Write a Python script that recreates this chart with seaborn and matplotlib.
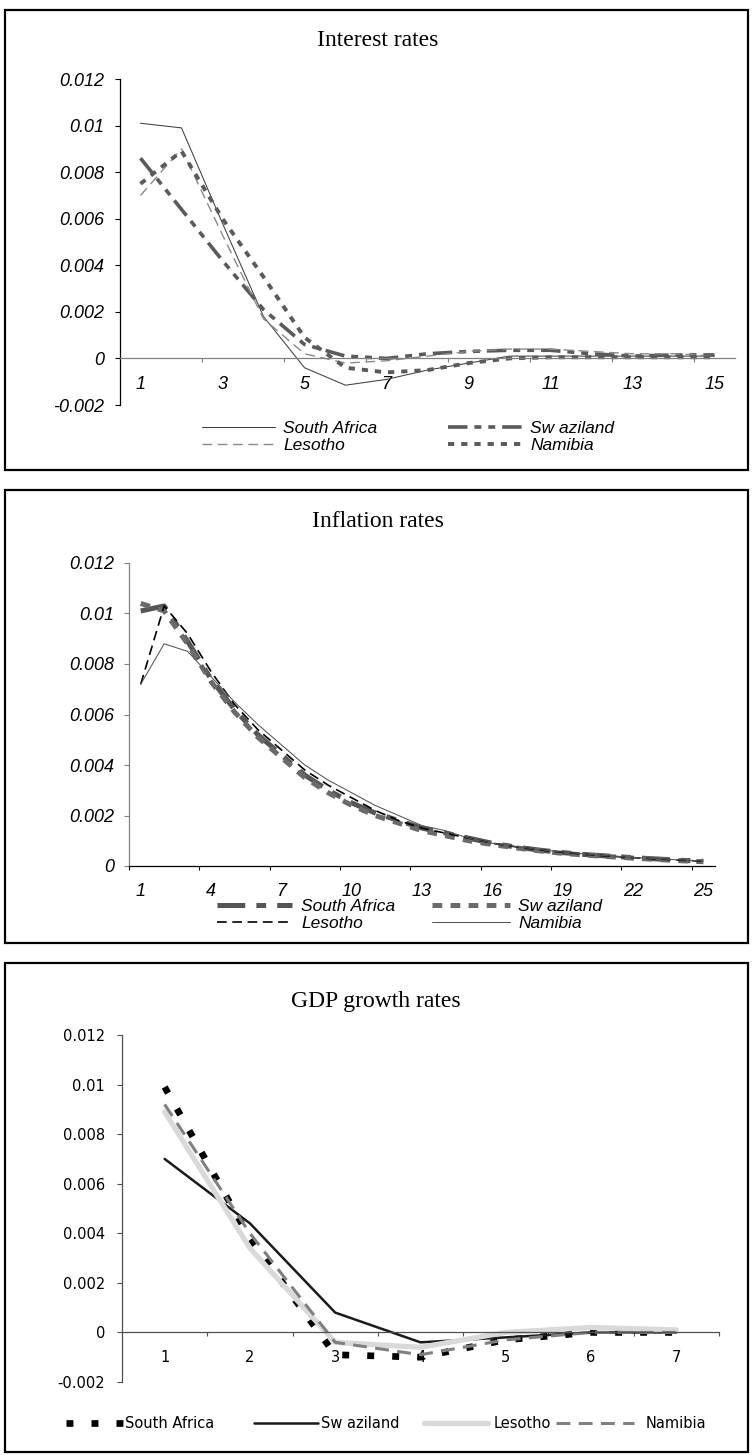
import matplotlib
matplotlib.use("Agg")
import matplotlib.pyplot as plt
import seaborn as sns
from matplotlib.lines import Line2D
from matplotlib.patches import Rectangle
from matplotlib.font_manager import FontProperties

sns.set_theme(style="white")
plt.rcParams["font.family"] = ["Liberation Sans", "DejaVu Sans"]
plt.rcParams["lines.scale_dashes"] = False
plt.rcParams["axes.unicode_minus"] = False
plt.rcParams["text.color"] = "black"

W, H, DPI = 753, 1455, 100

# ---------------- data ----------------
countries = ["South Africa", "Sw aziland", "Lesotho", "Namibia"]

interest_periods = list(range(1, 16))
interest_sa = [0.0101, 0.0099, 0.0058, 0.0018, -0.0004, -0.00115, -0.0009, -0.0005,
               -0.0002, 0.0001, 0.0001, 0.0001, 0.0001, 0.0001, 0.0001]
interest_sw = [0.0086, 0.0064, 0.0042, 0.0021, 0.0006, 0.0001, 0.0000, 0.0002,
               0.0003, 0.00035, 0.00035, 0.0002, 0.0001, 0.00015, 0.00015]
interest_le = [0.0070, 0.0090, 0.0053, 0.0017, 0.0002, -0.0002, -0.0001, 0.0001,
               0.0003, 0.0004, 0.0004, 0.0003, 0.0002, 0.0002, 0.0001]
interest_na = [0.0075, 0.0089, 0.0060, 0.0035, 0.0009, -0.0004, -0.0006, -0.0005,
               -0.0002, 0.0000, 0.00005, 0.00005, 0.00005, 0.00005, 0.00005]
interest_yticks = [0.012, 0.01, 0.008, 0.006, 0.004, 0.002, 0.0, -0.002]
interest_ylabels = ["0.012", "0.01", "0.008", "0.006", "0.004", "0.002", "0", "-0.002"]
interest_xlabels = [1, 3, 5, 7, 9, 11, 13, 15]

inflation_periods = list(range(1, 26))
inflation_sa = [0.0101, 0.0103, 0.0089, 0.0074, 0.0062, 0.0052, 0.0044, 0.0036, 0.0030,
                0.0025, 0.0021, 0.0018, 0.0015, 0.0013, 0.0011, 0.0009, 0.00075, 0.00063,
                0.00053, 0.00045, 0.00039, 0.00033, 0.00028, 0.00023, 0.00019]
inflation_sw = [0.0104, 0.0101, 0.0088, 0.0073, 0.0061, 0.0051, 0.0043, 0.0035, 0.0029,
                0.0024, 0.0020, 0.0017, 0.0014, 0.0012, 0.0010, 0.00085, 0.00072, 0.0006,
                0.0005, 0.00043, 0.00037, 0.00031, 0.00026, 0.00021, 0.00017]
inflation_le = [0.0072, 0.0103, 0.0092, 0.0077, 0.0064, 0.0054, 0.0046, 0.0038, 0.0032,
                0.0027, 0.0022, 0.0018, 0.0015, 0.0013, 0.0011, 0.0009, 0.00076, 0.00064,
                0.00054, 0.00046, 0.00039, 0.00033, 0.00028, 0.00023, 0.00019]
inflation_na = [0.0072, 0.0088, 0.0085, 0.0075, 0.0065, 0.0056, 0.0048, 0.0040, 0.0034,
                0.0029, 0.0024, 0.0020, 0.0016, 0.0014, 0.0011, 0.0009, 0.00077, 0.00065,
                0.00055, 0.00047, 0.0004, 0.00034, 0.00029, 0.00024, 0.0002]
inflation_yticks = [0.012, 0.01, 0.008, 0.006, 0.004, 0.002, 0.0]
inflation_ylabels = ["0.012", "0.01", "0.008", "0.006", "0.004", "0.002", "0"]
inflation_xlabels = [1, 4, 7, 10, 13, 16, 19, 22, 25]

gdp_periods = list(range(1, 8))
gdp_sa = [0.0099, 0.0038, -0.0009, -0.0010, -0.0003, 0.0000, 0.0000]
gdp_sw = [0.0070, 0.0044, 0.0008, -0.0004, -0.0002, 0.0000, 0.0000]
gdp_le = [0.0089, 0.0034, -0.0004, -0.0006, 0.0000, 0.0002, 0.0001]
gdp_na = [0.0092, 0.0040, -0.0004, -0.0009, -0.0003, 0.0000, 0.0000]
gdp_yticks = [0.012, 0.01, 0.008, 0.006, 0.004, 0.002, 0.0, -0.002]
gdp_ylabels = ["0.012", "0.01", "0.008", "0.006", "0.004", "0.002", "0", "-0.002"]
gdp_xlabels = [1, 2, 3, 4, 5, 6, 7]

# ---------------- helpers ----------------
fig = plt.figure(figsize=(W / DPI, H / DPI), dpi=DPI)
fig.patch.set_facecolor("white")


def axes_rect(left, top, right, bottom):
    return [left / W, 1 - bottom / H, (right - left) / W, (bottom - top) / H]


def frame(top, bottom):
    fig.patches.append(Rectangle((5 / W, 1 - bottom / H), 743 / W, (bottom - top) / H,
                                 transform=fig.transFigure, fill=False,
                                 edgecolor="black", linewidth=1.6, zorder=0))


def draw_series(ax, xs, ys, style):
    sns.lineplot(x=xs, y=ys, ax=ax, legend=False, sort=False, errorbar=None, **style)


def style_axes(ax, n_cat, yticks, ylabels, xlabels, minor_x, font, ycolor, xcolor,
               ypad, xpad):
    ax.set_xlim(0.5, n_cat + 0.5)
    ax.set_ylim(yticks[-1], yticks[0])
    for s in ("top", "right"):
        ax.spines[s].set_visible(False)
    ax.spines["bottom"].set_position(("data", 0))
    ax.spines["left"].set_color(ycolor)
    ax.spines["left"].set_linewidth(0.9)
    ax.spines["bottom"].set_color(xcolor)
    ax.spines["bottom"].set_linewidth(0.9)
    ax.set_yticks(yticks)
    ax.set_yticklabels(ylabels, fontproperties=font)
    ax.set_xticks(xlabels)
    ax.set_xticklabels([str(v) for v in xlabels], fontproperties=font)
    ax.set_xticks(minor_x, minor=True)
    ax.tick_params(axis="y", direction="out", length=3.6, width=0.8, color=ycolor,
                   pad=ypad, left=True, labelcolor="black")
    ax.tick_params(axis="x", which="major", length=0, pad=xpad, bottom=True,
                   labelcolor="black")
    ax.tick_params(axis="x", which="minor", direction="out", length=3, width=0.8,
                   color=xcolor, bottom=True)
    ax.set_xlabel("")
    ax.set_ylabel("")
    ax.patch.set_alpha(0)
    ax.grid(False)


def legend_entry(style, label, x_px, y_px, hl_px, gap_px, prop):
    h = Line2D([], [], color=style.get("color"), linewidth=style.get("linewidth"),
               linestyle=style.get("linestyle", "-"))
    fs_px = prop.get_size_in_points() * DPI / 72
    fig.legend([h], [label], loc="center left",
               bbox_to_anchor=(x_px / W, 1 - y_px / H),
               frameon=False, borderpad=0, borderaxespad=0,
               handlelength=hl_px / fs_px, handletextpad=gap_px / fs_px, prop=prop)


title_font = dict(family=["Liberation Serif", "DejaVu Serif"], size=17)
it_tick = FontProperties(family=["Liberation Sans", "DejaVu Sans"], style="italic", size=13)
it_leg = FontProperties(family=["Liberation Sans", "DejaVu Sans"], style="italic", size=12.5)
plain_tick = FontProperties(family=["DejaVu Sans"], size=10.5)
plain_leg = FontProperties(family=["DejaVu Sans"], size=10.5)

# ---------------- panel 1: interest rates ----------------
frame(10, 470)
ax1 = fig.add_axes(axes_rect(120, 79, 735, 405))
st1 = [
    dict(color="#404040", linewidth=0.75, linestyle="-"),
    dict(color="#5a5a5a", linewidth=2.6, linestyle=(0, (14, 5, 5, 5, 5, 5))),
    dict(color="#8a8a8a", linewidth=1.0, linestyle=(0, (7, 4))),
    dict(color="#5a5a5a", linewidth=2.8, linestyle=(0, (4.5, 5))),
]
for ys, st in zip([interest_sa, interest_sw, interest_le, interest_na], st1):
    draw_series(ax1, interest_periods, ys, st)
style_axes(ax1, 15, interest_yticks, interest_ylabels, interest_xlabels,
           [i + 0.5 for i in range(2, 15, 2)], it_tick, "black", "#808080", 8, 13)
fig.text(378 / W, 1 - 40 / H, "Interest rates", ha="center", va="center", **title_font)
legend_entry(st1[0], countries[0], 202, 428, 73, 8, it_leg)
legend_entry(st1[1], countries[1], 448, 428, 74, 8, it_leg)
legend_entry(st1[2], countries[2], 202, 445, 73, 8, it_leg)
legend_entry(st1[3], countries[3], 448, 445, 74, 8, it_leg)

# ---------------- panel 2: inflation rates ----------------
frame(490, 943)
ax2 = fig.add_axes(axes_rect(129, 563, 715, 866))
st2 = [
    dict(color="#555555", linewidth=3.6, linestyle=(0, (20, 8, 7, 8))),
    dict(color="#6a6a6a", linewidth=3.6, linestyle=(0, (7, 6))),
    dict(color="black", linewidth=1.2, linestyle=(0, (7, 4))),
    dict(color="#555555", linewidth=0.75, linestyle="-"),
]
for ys, st in zip([inflation_sa, inflation_sw, inflation_le, inflation_na], st2):
    draw_series(ax2, inflation_periods, ys, st)
style_axes(ax2, 25, inflation_yticks, inflation_ylabels, inflation_xlabels,
           [i + 0.5 for i in range(0, 25, 3)], it_tick, "#808080", "black", 7, 12)
fig.text(378 / W, 1 - 521 / H, "Inflation rates", ha="center", va="center", **title_font)
legend_entry(st2[0], countries[0], 217, 906, 75, 9, it_leg)
legend_entry(st2[1], countries[1], 432, 906, 78, 8, it_leg)
legend_entry(st2[2], countries[2], 217, 923, 75, 9, it_leg)
legend_entry(st2[3], countries[3], 432, 923, 78, 8, it_leg)

# ---------------- panel 3: GDP growth rates ----------------
frame(963, 1452)
ax3 = fig.add_axes(axes_rect(122, 1035, 719, 1382))
st3 = [
    dict(color="black", linewidth=4.8, linestyle=(0, (5, 13))),
    dict(color="#1a1a1a", linewidth=1.8, linestyle="-"),
    dict(color="#d9d9d9", linewidth=3.8, linestyle="-"),
    dict(color="#808080", linewidth=2.2, linestyle=(0, (10, 6))),
]
for ys, st in zip([gdp_sa, gdp_sw, gdp_le, gdp_na], st3):
    draw_series(ax3, gdp_periods, ys, st)
style_axes(ax3, 7, gdp_yticks, gdp_ylabels, gdp_xlabels,
           [i + 0.5 for i in range(1, 8)], plain_tick, "#505050", "#505050", 8.6, 12.7)
fig.text(376 / W, 1 - 1002 / H, "GDP growth rates", ha="center", va="center", **title_font)
legend_entry(st3[0], countries[0], 66, 1424, 57, 2, plain_leg)
legend_entry(st3[1], countries[1], 254, 1424, 64, 3, plain_leg)
legend_entry(st3[2], countries[2], 424, 1424, 64, 6, plain_leg)
legend_entry(st3[3], countries[3], 556, 1424, 78, 12, plain_leg)

fig.savefig("out.png", dpi=DPI, facecolor="white")
